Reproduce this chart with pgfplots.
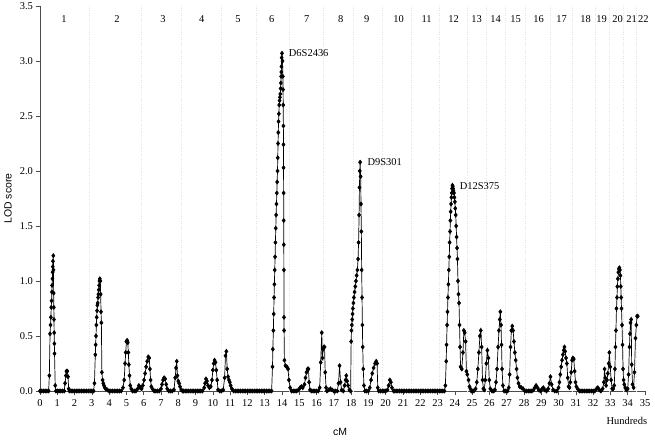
\documentclass[border=0pt]{standalone}
\usepackage{fontspec}
\setmainfont{Liberation Serif}
\newfontfamily\arial{Liberation Sans}
\usepackage{pgfplots}
\pgfplotsset{compat=1.18}
\begin{document}
\begin{tikzpicture}
\begin{axis}[
  scale only axis, width=605bp, height=385bp,
  xmin=0, xmax=35, ymin=0, ymax=3.5,
  axis lines=left, axis line style={-, gray!60!black, line width=0.5pt},
  xtick={0,1,...,35}, ytick={0,0.5,...,3.5},
  tick align=outside, tick style={gray!60!black, line width=0.5pt}, major tick length=3.5bp,
  yticklabel style={/pgf/number format/.cd, fixed, fixed zerofill, precision=1},
  /pgf/number format/assume math mode=true,
  ticklabel style={font=\fontsize{10.5}{12}\selectfont},
  xticklabel style={yshift=-2bp},
  clip=false,
  extra x ticks={2.85,5.84,8.2,10.5,12.5,14.4,16.4,18.1,19.8,21.5,23.1,24.7,25.8,26.9,28.1,29.5,30.8,32.1,32.95,33.75,34.5},
  extra x tick labels={},
  extra x tick style={grid=major, major tick length=0pt, major grid style={dotted, gray!22, line width=0.6pt}},
  ylabel={LOD score},
  ylabel style={at={(axis description cs:-0.053,0.5)}, anchor=center, font=\arial\fontsize{10.5}{12}\selectfont},
  xlabel={cM},
  xlabel style={at={(axis description cs:0.496,-0.106)}, anchor=center, font=\arial\fontsize{10.5}{12}\selectfont},
]
\addplot[black, line width=0.7pt, mark=diamond*, mark size=2pt, mark options={solid, fill=black}] coordinates {
(0,0)(0.1,0)(0.2,0)(0.3,0)(0.4,0)(0.5,0)
(0.54,0.14)(0.58,0.52)(0.61,0.6)(0.63,0.67)(0.65,0.76)(0.67,0.82)(0.69,0.9)(0.7,0.96)(0.72,1.02)(0.73,1.08)(0.74,1.13)(0.75,1.18)(0.77,1.23)(0.78,1.1)(0.79,0.89)(0.8,0.76)(0.81,0.65)(0.82,0.53)(0.83,0.43)(0.84,0.34)(0.88,0.05)(0.92,0)
(1.0,0)(1.1,0)(1.2,0)(1.3,0)(1.4,0)
(1.45,0.07)(1.5,0.14)(1.53,0.18)(1.58,0.18)(1.62,0.13)(1.66,0.02)(1.7,0)
(1.8,0)(1.9,0)(2.0,0)(2.1,0)(2.2,0)(2.3,0)(2.4,0)(2.5,0)(2.6,0)(2.7,0)(2.8,0)(2.9,0)(3.0,0)(3.1,0)
(3.15,0.07)(3.2,0.33)(3.22,0.42)(3.24,0.5)(3.26,0.6)(3.28,0.67)(3.3,0.73)(3.32,0.78)(3.34,0.8)(3.36,0.85)(3.38,0.88)(3.4,0.92)(3.42,0.96)(3.44,1.0)(3.46,1.02)(3.49,1.0)(3.51,0.88)(3.53,0.72)(3.55,0.62)(3.58,0.17)(3.62,0.1)(3.66,0.07)(3.7,0.05)(3.75,0.03)(3.8,0.02)(3.9,0.01)(4.0,0)
(4.1,0)(4.2,0)(4.3,0)(4.4,0)(4.5,0)(4.6,0)(4.7,0)
(4.8,0.03)(4.87,0.1)(4.92,0.25)(4.96,0.35)(5.0,0.45)(5.04,0.46)(5.08,0.44)(5.11,0.35)(5.14,0.24)(5.18,0.14)(5.22,0.05)(5.28,0.02)(5.35,0)(5.45,0)(5.55,0)(5.65,0.02)(5.72,0.05)(5.8,0.03)(5.88,0.02)(5.95,0.05)(6.02,0.1)(6.08,0.16)(6.14,0.22)(6.2,0.27)(6.26,0.31)(6.32,0.3)(6.36,0.2)(6.4,0.1)(6.44,0.04)(6.5,0.02)(6.6,0)(6.7,0)(6.8,0)(6.9,0)(7.0,0.02)(7.06,0.06)(7.12,0.1)(7.18,0.12)(7.24,0.11)(7.3,0.06)(7.36,0.02)(7.45,0)(7.55,0)(7.65,0)(7.75,0.01)(7.82,0.12)(7.87,0.21)(7.91,0.27)(7.95,0.14)(8.0,0.09)(8.05,0.07)(8.1,0.04)(8.17,0.01)(8.25,0)
(8.3,0)(8.4,0)(8.5,0)(8.6,0)(8.7,0)(8.8,0)(8.9,0)(9.0,0)(9.1,0)(9.2,0)(9.3,0)(9.4,0)
(9.5,0.03)(9.55,0.07)(9.6,0.11)(9.66,0.09)(9.72,0.05)(9.8,0.03)(9.88,0.04)(9.95,0.1)(10.0,0.19)(10.05,0.25)(10.1,0.28)(10.15,0.26)(10.2,0.19)(10.25,0.1)(10.3,0.01)(10.4,0)(10.5,0)(10.6,0.01)(10.68,0.12)(10.73,0.32)(10.78,0.36)(10.83,0.2)(10.88,0.13)(10.93,0.1)(10.98,0.08)(11.03,0.05)(11.1,0.02)(11.2,0)
(11.3,0)(11.4,0)(11.5,0)(11.6,0)(11.7,0)(11.8,0)(11.9,0)(12.0,0)(12.1,0)(12.2,0)(12.3,0)(12.4,0)(12.5,0)(12.6,0)(12.7,0)(12.8,0)(12.9,0)(13.0,0)(13.1,0)(13.2,0)(13.3,0)(13.4,0)
(13.45,0.22)(13.47,0.38)(13.5,0.55)(13.52,0.7)(13.54,0.85)(13.56,0.97)(13.58,1.1)(13.6,1.22)(13.62,1.35)(13.64,1.48)(13.66,1.6)(13.68,1.7)(13.7,1.8)(13.72,1.9)(13.74,2.0)(13.755,2.12)(13.77,2.25)(13.785,2.35)(13.8,2.45)(13.82,2.52)(13.84,2.6)(13.86,2.64)(13.88,2.67)(13.9,2.7)(13.92,2.75)(13.935,2.8)(13.95,2.86)(13.96,2.9)(13.97,2.95)(13.98,3.03)(14.0,3.07)(14.03,3.0)(14.05,2.86)(14.06,2.74)(14.07,2.6)(14.08,2.41)(14.085,2.24)(14.09,2.03)(14.095,1.8)(14.1,1.55)(14.105,1.33)(14.11,1.1)(14.115,0.67)(14.12,0.55)(14.14,0.28)(14.2,0.23)(14.28,0.22)(14.35,0.2)(14.4,0.1)(14.47,0.03)(14.55,0)
(14.65,0)(14.75,0)(14.85,0)(14.95,0.01)(15.05,0.03)(15.12,0.04)(15.2,0.03)(15.3,0.06)(15.36,0.12)(15.42,0.17)(15.48,0.2)(15.53,0.2)(15.57,0.08)(15.62,0.01)(15.7,0)(15.8,0)(15.9,0)(16.0,0)(16.1,0)(16.18,0.03)(16.24,0.26)(16.3,0.53)(16.34,0.3)(16.38,0.38)(16.42,0.4)(16.46,0.4)(16.5,0.17)(16.55,0.03)(16.6,0)(16.7,0.01)(16.8,0.02)(16.9,0.01)(17.0,0)(17.1,0)(17.2,0)(17.27,0.07)(17.33,0.23)(17.39,0.08)(17.45,0.01)(17.55,0)(17.62,0.05)(17.68,0.1)(17.72,0.14)(17.77,0.09)(17.82,0.05)(17.9,0.01)(17.97,0)
(18.0,0.45)(18.02,0.55)(18.04,0.6)(18.06,0.65)(18.08,0.7)(18.1,0.75)(18.13,0.8)(18.16,0.85)(18.2,0.9)(18.24,0.95)(18.28,1.0)(18.32,1.05)(18.36,1.1)(18.4,1.2)(18.43,1.35)(18.46,1.6)(18.48,1.85)(18.5,2.0)(18.52,2.08)(18.55,1.95)(18.57,1.7)(18.59,1.45)(18.61,1.1)(18.63,0.85)(18.65,0.6)(18.67,0.4)(18.7,0.2)(18.74,0.05)(18.8,0)
(18.9,0)(19.0,0)(19.08,0.03)(19.15,0.1)(19.22,0.16)(19.3,0.21)(19.38,0.25)(19.45,0.27)(19.5,0.25)(19.54,0.03)(19.6,0)(19.7,0)(19.8,0)(19.9,0)(20.0,0)(20.1,0.01)(20.17,0.05)(20.24,0.1)(20.3,0.08)(20.36,0.03)(20.45,0)
(20.5,0)(20.6,0)(20.7,0)(20.8,0)(20.9,0)(21.0,0)(21.1,0)(21.2,0)(21.3,0)(21.4,0)(21.5,0)(21.6,0)(21.7,0)(21.8,0)(21.9,0)(22.0,0)(22.1,0)(22.2,0)(22.3,0)(22.4,0)(22.5,0)(22.6,0)(22.7,0)(22.8,0)(22.9,0)(23.0,0)(23.1,0)(23.2,0)(23.3,0)(23.4,0)
(23.45,0.05)(23.5,0.27)(23.52,0.42)(23.55,0.6)(23.575,0.72)(23.6,0.85)(23.625,0.97)(23.65,1.1)(23.675,1.22)(23.7,1.35)(23.72,1.45)(23.74,1.55)(23.76,1.63)(23.78,1.7)(23.8,1.76)(23.82,1.8)(23.84,1.84)(23.86,1.87)(23.88,1.86)(23.9,1.84)(23.92,1.82)(23.95,1.8)(23.975,1.76)(24.0,1.72)(24.025,1.66)(24.05,1.6)(24.075,1.5)(24.1,1.4)(24.125,1.3)(24.15,1.2)(24.18,1.0)(24.21,0.88)(24.24,0.8)(24.27,0.6)(24.3,0.4)(24.33,0.22)(24.4,0.2)(24.47,0.35)(24.52,0.55)(24.57,0.53)(24.62,0.45)(24.67,0.18)(24.72,0.15)(24.79,0.1)(24.85,0.04)(24.9,0.02)(24.95,0)
(25.0,0)(25.1,0)(25.2,0.02)(25.27,0.08)(25.33,0.2)(25.39,0.35)(25.45,0.5)(25.5,0.55)(25.55,0.4)(25.6,0.1)(25.65,0.02)(25.7,0.01)(25.76,0.1)(25.82,0.25)(25.88,0.37)(25.94,0.3)(25.99,0.1)(26.05,0.02)(26.15,0)(26.25,0)(26.32,0.01)(26.38,0.08)(26.44,0.2)(26.5,0.4)(26.55,0.55)(26.6,0.65)(26.63,0.72)(26.67,0.6)(26.7,0.42)(26.73,0.2)(26.78,0.05)(26.85,0)(26.95,0)(27.05,0)(27.12,0.03)(27.17,0.15)(27.22,0.4)(27.27,0.55)(27.32,0.59)(27.37,0.55)(27.42,0.45)(27.47,0.35)(27.52,0.28)(27.57,0.2)(27.62,0.12)(27.68,0.07)(27.75,0.04)(27.85,0.03)(27.95,0.02)(28.05,0)(28.15,0)(28.25,0)(28.35,0)(28.45,0)(28.55,0.01)(28.62,0.03)(28.7,0.05)(28.78,0.03)(28.85,0.01)(28.95,0)(29.05,0.02)(29.12,0.03)(29.2,0.01)(29.3,0)(29.4,0.02)(29.47,0.07)(29.53,0.13)(29.6,0.06)(29.68,0.01)(29.78,0)(29.9,0)
(30.0,0.03)(30.05,0.08)(30.1,0.15)(30.15,0.22)(30.2,0.28)(30.25,0.33)(30.3,0.37)(30.34,0.4)(30.38,0.36)(30.43,0.3)(30.48,0.25)(30.53,0.12)(30.58,0.04)(30.63,0.03)(30.68,0.08)(30.73,0.17)(30.78,0.28)(30.83,0.3)(30.88,0.29)(30.93,0.18)(30.98,0.08)(31.03,0.04)(31.1,0.02)(31.2,0)
(31.3,0)(31.4,0)(31.5,0)(31.6,0)(31.7,0)(31.8,0)(31.9,0)(32.0,0)(32.1,0)
(32.2,0.02)(32.27,0.03)(32.35,0.01)(32.45,0)(32.55,0.02)(32.62,0.08)(32.66,0.2)(32.7,0.12)(32.75,0.05)(32.8,0.1)(32.85,0.16)(32.9,0.25)(32.94,0.35)(32.99,0.22)(33.04,0.1)(33.1,0.02)(33.16,0.02)(33.22,0.05)(33.26,0.2)(33.29,0.4)(33.32,0.55)(33.35,0.75)(33.38,0.85)(33.4,0.95)(33.43,1.02)(33.46,1.08)(33.49,1.11)(33.52,1.12)(33.55,1.1)(33.58,1.05)(33.6,0.95)(33.62,0.85)(33.64,0.75)(33.67,0.6)(33.7,0.42)(33.73,0.2)(33.76,0.1)(33.8,0.06)(33.86,0.03)(33.92,0.01)(34.0,0.02)(34.05,0.15)(34.1,0.4)(34.13,0.52)(34.16,0.62)(34.2,0.65)(34.23,0.24)(34.28,0.06)(34.34,0.03)(34.39,0.17)(34.45,0.48)(34.5,0.6)(34.54,0.68)(34.58,0.68)
};
\begin{scope}[every node/.style={font=\fontsize{10.5}{12}\selectfont, inner sep=0pt}]
\node at (axis cs:1.39,3.38) {1};
\node at (axis cs:4.45,3.38) {2};
\node at (axis cs:7.11,3.38) {3};
\node at (axis cs:9.36,3.38) {4};
\node at (axis cs:11.45,3.38) {5};
\node at (axis cs:13.41,3.38) {6};
\node at (axis cs:15.43,3.38) {7};
\node at (axis cs:17.4,3.38) {8};
\node at (axis cs:18.9,3.38) {9};
\node at (axis cs:20.75,3.38) {10};
\node at (axis cs:22.37,3.38) {11};
\node at (axis cs:23.93,3.38) {12};
\node at (axis cs:25.26,3.38) {13};
\node at (axis cs:26.36,3.38) {14};
\node at (axis cs:27.51,3.38) {15};
\node at (axis cs:28.84,3.38) {16};
\node at (axis cs:30.17,3.38) {17};
\node at (axis cs:31.56,3.38) {18};
\node at (axis cs:32.49,3.38) {19};
\node at (axis cs:33.41,3.38) {20};
\node at (axis cs:34.22,3.38) {21};
\node at (axis cs:34.91,3.38) {22};
\node[anchor=west] at (axis cs:14.39,3.07) {D6S2436};
\node[anchor=west] at (axis cs:18.94,2.08) {D9S301};
\node[anchor=west] at (axis cs:24.28,1.86) {D12S375};
\node at (axis description cs:0.97,-0.078) {Hundreds};
\end{scope}
\end{axis}
\pgfresetboundingbox
\path[use as bounding box] (current axis.south west) ++(-40bp,-50bp) rectangle ++(655bp,441bp);
\end{tikzpicture}
\end{document}
